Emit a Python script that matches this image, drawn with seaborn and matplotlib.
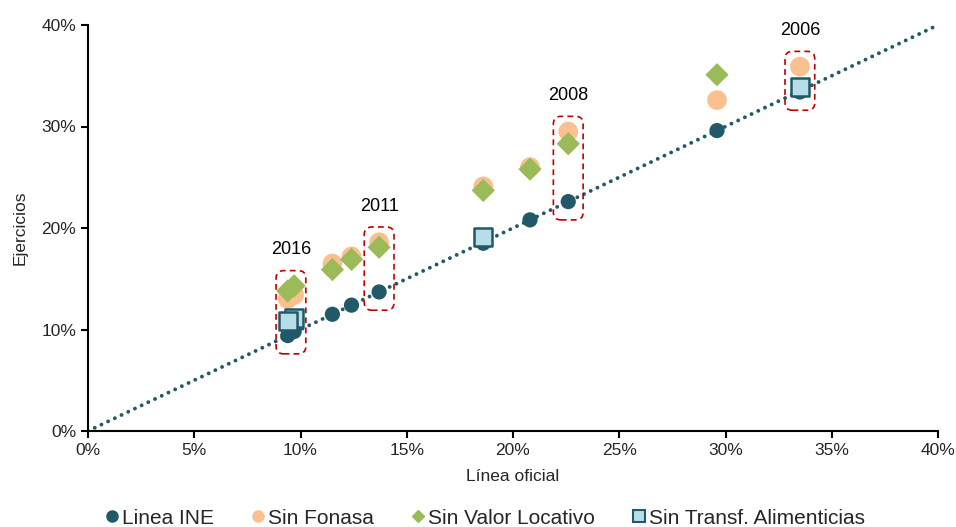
import numpy as np
import pandas as pd
import matplotlib
matplotlib.use("Agg")
import matplotlib.pyplot as plt
from matplotlib.patches import FancyBboxPatch
from matplotlib.lines import Line2D
from matplotlib.ticker import PercentFormatter
import seaborn as sns

# Datos (% de pobreza)
linea_oficial = [33.5, 29.6, 22.6, 20.8, 18.6, 13.7, 12.4, 11.5, 9.7, 9.4]
linea_ine = [33.4, 29.6, 22.6, 20.8, 18.5, 13.7, 12.4, 11.5, 9.8, 9.4]
sin_fonasa = [35.9, 32.6, 29.5, 26.0, 24.1, 18.6, 17.2, 16.5, 13.4, 13.0]
sin_valor_locativo = [np.nan, 35.1, 28.3, 25.8, 23.7, 18.1, 16.9, 15.9, 14.3, 13.8]
sin_transf_alim = [33.9, np.nan, np.nan, np.nan, 19.1, np.nan, np.nan, np.nan, 11.1, 10.8]

# Años destacados y su valor en la línea oficial
anios = ["2006", "2008", "2011", "2016"]
anios_x = [[33.5], [22.6], [13.7], [9.4, 9.7]]

TEAL = "#215968"
ORANGE = "#FAC090"
GREEN = "#9BBB59"
LIGHTBLUE = "#B7DEE8"
RED = "#C00000"

sns.set_style("white")
plt.rcParams["font.family"] = ["Liberation Sans", "DejaVu Sans"]

df = pd.DataFrame({
    "oficial": linea_oficial,
    "ine": linea_ine,
    "fonasa": sin_fonasa,
    "locativo": sin_valor_locativo,
    "alim": sin_transf_alim,
})

fig, ax = plt.subplots(figsize=(9.56, 5.27), dpi=100)
fig.subplots_adjust(left=88 / 956, right=938 / 956, top=1 - 25 / 527, bottom=1 - 431 / 527)

# linea 45 grados
diag = pd.DataFrame({"x": [0, 40], "y": [0, 40]})
sns.lineplot(data=diag, x="x", y="y", ax=ax, color=TEAL, linestyle=(0, (0.01, 1.9)),
             linewidth=2.8, dash_capstyle="round", zorder=1)

sns.scatterplot(data=df, x="oficial", y="ine", ax=ax, color=TEAL, s=120,
                edgecolor="none", zorder=3)
sns.scatterplot(data=df, x="oficial", y="fonasa", ax=ax, color=ORANGE, s=200,
                edgecolor="none", zorder=4)
sns.scatterplot(data=df, x="oficial", y="locativo", ax=ax, color=GREEN, s=140,
                marker="D", edgecolor="none", zorder=5)
sns.scatterplot(data=df, x="oficial", y="alim", ax=ax, color=LIGHTBLUE, s=155,
                marker="s", edgecolor=TEAL, linewidth=1.8, zorder=6)

# recuadros de años destacados
for anio, xs in zip(anios, anios_x):
    sub = df[df["oficial"].isin(xs)]
    vals = sub[["ine", "fonasa", "locativo", "alim"]].values
    ymin = np.nanmin(vals) - 1.8
    ymax = np.nanmax(vals) + 1.5
    xc = np.mean(xs)
    x0, x1 = xc - 0.7, xc + 0.7
    box = FancyBboxPatch((x0, ymin), x1 - x0, ymax - ymin,
                         boxstyle="round,pad=0,rounding_size=0.35",
                         fill=False, edgecolor=RED, linestyle=(0, (3.5, 2.5)),
                         linewidth=1.2, zorder=7, mutation_aspect=2.1)
    ax.add_patch(box)
    ax.text(xc, ymax + 1.2, anio, ha="center", va="bottom", fontsize=13, color="black")

ax.set_xlim(0, 40)
ax.set_ylim(0, 40)
ax.set_xticks(np.arange(0, 41, 5))
ax.set_yticks(np.arange(0, 41, 10))
ax.xaxis.set_major_formatter(PercentFormatter(decimals=0))
ax.yaxis.set_major_formatter(PercentFormatter(decimals=0))
ax.tick_params(axis="both", labelsize=12.5, length=5, width=1.5, direction="out",
               color="black", bottom=True, left=True)
ax.set_xlabel("Línea oficial", fontsize=12.5, labelpad=8)
ax.set_ylabel("Ejercicios", fontsize=12.5, labelpad=10)
sns.despine(ax=ax)
for sp in ["left", "bottom"]:
    ax.spines[sp].set_color("black")
    ax.spines[sp].set_linewidth(1.5)

handles = [
    Line2D([], [], linestyle="none", marker="o", markersize=8, color=TEAL),
    Line2D([], [], linestyle="none", marker="o", markersize=8, color=ORANGE),
    Line2D([], [], linestyle="none", marker="D", markersize=6, color=GREEN),
    Line2D([], [], linestyle="none", marker="s", markersize=8, markerfacecolor=LIGHTBLUE,
           markeredgecolor=TEAL, markeredgewidth=1.5),
]
labels = ["Linea INE", "Sin Fonasa", "Sin Valor Locativo", "Sin Transf. Alimenticias"]
ax.legend(handles, labels, loc="center", bbox_to_anchor=(0.465, -0.215), ncol=4,
          frameon=False, fontsize=15, handletextpad=0.0, columnspacing=1.6,
          handlelength=1.0, borderaxespad=0)

fig.savefig("out.png", dpi=100)
